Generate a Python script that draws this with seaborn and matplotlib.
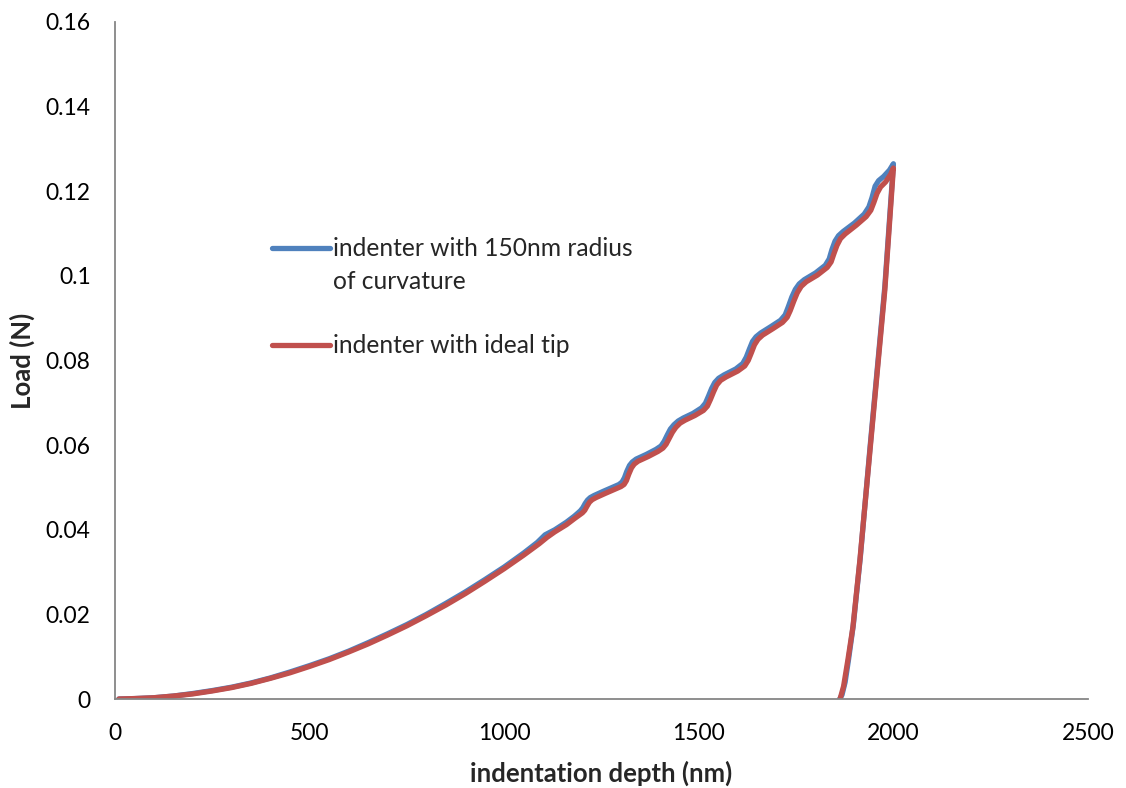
import matplotlib
matplotlib.use("Agg")
import matplotlib.pyplot as plt
from matplotlib.lines import Line2D
import seaborn as sns
import pandas as pd

# ---- data ----
blue_label = "indenter with 150nm radius of curvature"
red_label = "indenter with ideal tip"

blue_depth = [10, 50, 100, 150, 200, 250, 300, 350, 400, 450, 500, 550, 600, 650, 700,
              750, 800, 850, 900, 950, 1000, 1050, 1085, 1105, 1130, 1160, 1180,
              1190, 1196, 1202, 1208, 1214, 1221, 1231, 1255, 1280, 1295, 1303, 1309,
              1315, 1322, 1329, 1339, 1365, 1390, 1403, 1411, 1419, 1427, 1436, 1447,
              1460, 1485, 1507, 1517, 1525, 1533, 1541, 1551, 1565, 1595, 1613, 1622,
              1630, 1638, 1647, 1659, 1685, 1710, 1722, 1730, 1739, 1748, 1758, 1771,
              1800, 1825, 1835, 1842, 1850, 1859, 1871, 1900, 1925, 1937, 1945, 1953,
              1962, 1975, 1990, 2000,
              1978, 1960, 1940, 1915, 1897, 1885, 1876, 1868, 1862]
blue_load = [0.0000, 0.0001, 0.0003, 0.0007, 0.0013, 0.0020, 0.0028, 0.0038, 0.0050, 0.0064,
             0.0079, 0.0095, 0.0113, 0.0133, 0.0154, 0.0176, 0.0200, 0.0226, 0.0253, 0.0282,
             0.0312, 0.0345, 0.0370, 0.0388, 0.0400, 0.0418, 0.0432,
             0.0440, 0.0445, 0.0452, 0.0462, 0.0470, 0.0476, 0.0481, 0.0491, 0.0501, 0.0507,
             0.0513, 0.0523, 0.0538, 0.0552, 0.0560, 0.0567, 0.0578, 0.0590, 0.0598, 0.0609,
             0.0624, 0.0638, 0.0648, 0.0657, 0.0664, 0.0675, 0.0688, 0.0699, 0.0716, 0.0734,
             0.0748, 0.0758, 0.0766, 0.0780, 0.0793, 0.0808, 0.0827, 0.0845, 0.0856, 0.0865,
             0.0880, 0.0895, 0.0908, 0.0927, 0.0950, 0.0968, 0.0981, 0.0991, 0.1007, 0.1025,
             0.1040, 0.1062, 0.1082, 0.1095, 0.1105, 0.1125, 0.1146, 0.1163, 0.1185, 0.1212,
             0.1225, 0.1235, 0.1250, 0.1265,
             0.0975, 0.0795, 0.0595, 0.0335, 0.0175, 0.0095, 0.0040, 0.0010, 0.0000]

red_depth = [10, 50, 100, 150, 200, 250, 300, 350, 400, 450, 500, 550, 600, 650, 700,
             750, 800, 850, 900, 950, 1000, 1050, 1090, 1110, 1130, 1160, 1180,
             1195, 1201, 1207, 1213, 1219, 1226, 1236, 1260, 1285, 1300, 1308, 1314,
             1320, 1327, 1334, 1344, 1370, 1395, 1408, 1416, 1424, 1432, 1441, 1452,
             1465, 1490, 1512, 1522, 1530, 1538, 1546, 1556, 1570, 1600, 1618, 1627,
             1635, 1643, 1652, 1664, 1690, 1715, 1727, 1735, 1744, 1753, 1763, 1776,
             1805, 1830, 1840, 1847, 1855, 1864, 1876, 1905, 1930, 1942, 1950, 1958,
             1967, 1980, 1993, 2000,
             1978, 1960, 1940, 1914, 1896, 1883, 1872, 1863]
red_load = [0.0000, 0.0001, 0.0003, 0.0007, 0.0012, 0.0019, 0.0027, 0.0037, 0.0049, 0.0062,
            0.0077, 0.0093, 0.0111, 0.0130, 0.0151, 0.0173, 0.0197, 0.0222, 0.0249, 0.0278,
            0.0308, 0.0340, 0.0367, 0.0382, 0.0395, 0.0412, 0.0426,
            0.0436, 0.0440, 0.0446, 0.0456, 0.0465, 0.0471, 0.0476, 0.0486, 0.0496, 0.0502,
            0.0507, 0.0516, 0.0531, 0.0546, 0.0555, 0.0562, 0.0573, 0.0585, 0.0593, 0.0602,
            0.0616, 0.0630, 0.0642, 0.0652, 0.0659, 0.0670, 0.0682, 0.0692, 0.0708, 0.0726,
            0.0742, 0.0753, 0.0761, 0.0775, 0.0787, 0.0800, 0.0818, 0.0837, 0.0850, 0.0860,
            0.0875, 0.0890, 0.0902, 0.0918, 0.0940, 0.0960, 0.0975, 0.0986, 0.1002, 0.1020,
            0.1033, 0.1052, 0.1072, 0.1088, 0.1099, 0.1120, 0.1140, 0.1155, 0.1174, 0.1195,
            0.1210, 0.1222, 0.1240, 0.1255,
            0.0967, 0.0788, 0.0589, 0.0329, 0.0170, 0.0092, 0.0030, 0.0000]

x_ticks = [0, 500, 1000, 1500, 2000, 2500]
y_ticks = [0, 0.02, 0.04, 0.06, 0.08, 0.1, 0.12, 0.14, 0.16]
y_tick_labels = ["0", "0.02", "0.04", "0.06", "0.08", "0.1", "0.12", "0.14", "0.16"]

# ---- build long-form table ----
df = pd.concat([
    pd.DataFrame({"depth": blue_depth, "load": blue_load, "series": blue_label}),
    pd.DataFrame({"depth": red_depth, "load": red_load, "series": red_label}),
], ignore_index=True)

sns.set_theme(style="white")
plt.rcParams["font.family"] = ["Lato", "DejaVu Sans"]

BLUE = "#4F81BD"
RED = "#C0504D"
GRAY = "#868686"
LW = 3.8

fig = plt.figure(figsize=(11.26, 7.88), dpi=100)
ax = fig.add_axes([115 / 1126, 1 - 699 / 788, 973 / 1126, 677 / 788])

sns.lineplot(data=df, x="depth", y="load", hue="series", sort=False, estimator=None,
             units="series", palette={blue_label: BLUE, red_label: RED},
             hue_order=[blue_label, red_label], linewidth=LW, ax=ax, legend=False)
for ln in ax.lines:
    ln.set_solid_capstyle("round")
    ln.set_solid_joinstyle("round")

ax.set_xlim(0, 2500)
ax.set_ylim(0, 0.16)
ax.set_xticks(x_ticks)
ax.set_xticklabels([str(t) for t in x_ticks])
ax.set_yticks(y_ticks)
ax.set_yticklabels(y_tick_labels)

for s in ["top", "right"]:
    ax.spines[s].set_visible(False)
for s in ["left", "bottom"]:
    ax.spines[s].set_color(GRAY)
    ax.spines[s].set_linewidth(1.3)

ax.tick_params(axis="both", direction="out", length=5.5, width=1.3, color=GRAY,
               labelsize=16.5, labelcolor="black", pad=12)

ax.set_xlabel("indentation depth (nm)", fontsize=18.5, fontweight="bold", labelpad=12)
ax.set_ylabel("Load (N)", fontsize=18.5, fontweight="bold", labelpad=7.5)

handles = [Line2D([], [], color=BLUE, lw=LW, solid_capstyle="round"),
           Line2D([], [], color="none"),
           Line2D([], [], color="none"),
           Line2D([], [], color=RED, lw=LW, solid_capstyle="round")]
labels = ["indenter with 150nm radius", "of curvature", " ", red_label]
ax.legend(handles, labels, loc="upper left", bbox_to_anchor=(0.161, 0.682),
          frameon=False, fontsize=17.7, handlelength=2.36, handletextpad=0.12,
          labelspacing=0.38, borderpad=0, borderaxespad=0)

fig.savefig("out.png", dpi=100)
